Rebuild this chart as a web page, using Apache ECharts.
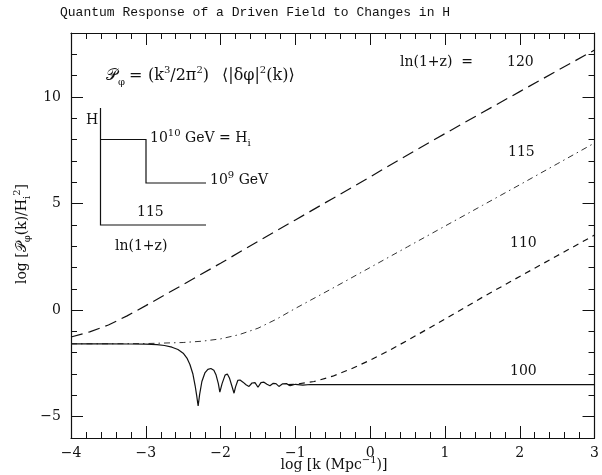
<!DOCTYPE html>
<html>
<head>
<meta charset="utf-8">
<script src="https://cdn.jsdelivr.net/npm/echarts@6/dist/echarts.min.js"></script>
<style>html,body{margin:0;padding:0;background:#fff;}#c{width:602px;height:475px;}</style>
</head>
<body>
<div id="c"></div>
<script>
// ---- data ----
const xTickValues = [-4, -3, -2, -1, 0, 1, 2, 3];
const yTickValues = [-5, 0, 5, 10];

// ln(1+z) = 120 (long dash)
const k120 = [-4, -3.75, -3.5, -3.25, -3, -2.5, -2, -1.5, -1, -0.5, 0, 0.5, 1, 1.5, 2, 2.5, 3];
const p120 = [-1.26, -1.02, -0.7, -0.27, 0.21, 1.2, 2.2, 3.22, 4.23, 5.24, 6.25, 7.28, 8.28, 9.27, 10.25, 11.23, 12.2];

// ln(1+z) = 115 (dash-dot)
const k115 = [-4, -3.5, -3, -2.5, -2.25, -2, -1.75, -1.5, -1.25, -1, -0.5, 0, 0.5, 1, 1.5, 2, 2.5, 3];
const p115 = [-1.58, -1.58, -1.57, -1.52, -1.46, -1.35, -1.15, -0.85, -0.42, 0.08, 1.03, 2.0, 2.97, 3.94, 4.91, 5.88, 6.86, 7.84];

// ln(1+z) = 110 (short dash)
const k110 = [-1.1, -1.0, -0.75, -0.5, -0.25, 0, 0.25, 0.5, 0.75, 1, 1.5, 2, 2.5, 3];
const p110 = [-3.5, -3.48, -3.35, -3.1, -2.75, -2.35, -1.9, -1.42, -0.92, -0.42, 0.6, 1.58, 2.55, 3.52];

// ln(1+z) = 100 (solid)
const k100 = [-4, -3.5, -3.2, -3.0, -2.85, -2.75, -2.65, -2.57, -2.5, -2.45, -2.41, -2.37, -2.34, -2.32, -2.30, -2.28, -2.25, -2.21, -2.17, -2.13, -2.09, -2.06, -2.03, -2.01, -1.98, -1.94, -1.91, -1.88, -1.85, -1.82, -1.80, -1.77, -1.74, -1.70, -1.66, -1.62, -1.58, -1.54, -1.50, -1.46, -1.42, -1.38, -1.34, -1.30, -1.26, -1.22, -1.17, -1.12, -1.07, -1.0, -0.9, -0.8, -0.6, -0.3, 0, 1, 2, 3];
const p100 = [-1.58, -1.58, -1.59, -1.6, -1.62, -1.66, -1.74, -1.85, -2.02, -2.25, -2.55, -3.0, -3.55, -4.0, -4.5, -3.95, -3.35, -2.95, -2.78, -2.74, -2.82, -3.05, -3.45, -3.85, -3.45, -3.05, -3.0, -3.2, -3.55, -3.9, -3.6, -3.3, -3.28, -3.38, -3.5, -3.58, -3.42, -3.4, -3.62, -3.4, -3.38, -3.48, -3.55, -3.44, -3.45, -3.58, -3.46, -3.45, -3.55, -3.48, -3.52, -3.49, -3.5, -3.5, -3.5, -3.5, -3.5, -3.5];

const zip = (a, b) => a.map((v, i) => [v, b[i]]);

const SERIF = '"DejaVu Serif", "Liberation Serif", serif';
const INK = '#111';
const minus = v => (v < 0 ? '\u2212' + Math.abs(v) : String(v));

function xAx(pos, label) {
  return {
    type: 'value', position: pos, min: -4, max: 3, interval: 1,
    axisLine: { show: true, onZero: false, lineStyle: { color: INK, width: 1.2 } },
    axisTick: { show: true, inside: true, length: 12, lineStyle: { color: INK, width: 1 } },
    minorTick: { show: true, splitNumber: 5, length: 6, lineStyle: { color: INK, width: 1 } },
    axisLabel: { show: label, color: INK, fontFamily: SERIF, fontSize: 14, margin: 8, formatter: minus },
    splitLine: { show: false }, minorSplitLine: { show: false }
  };
}
function yMajor(pos, label) {
  return {
    type: 'value', position: pos, min: -6, max: 13,
    axisLine: { show: true, onZero: false, lineStyle: { color: INK, width: 1.2 } },
    axisTick: { show: true, inside: true, length: 12, customValues: yTickValues, lineStyle: { color: INK, width: 1 } },
    axisLabel: { show: label, customValues: yTickValues, color: INK, fontFamily: SERIF, fontSize: 14, margin: 10, formatter: minus },
    splitLine: { show: false }
  };
}
function yMinor(pos) {
  return {
    type: 'value', position: pos, min: -6, max: 13, interval: 1,
    axisLine: { show: false, onZero: false },
    axisTick: { show: true, inside: true, length: 6, lineStyle: { color: INK, width: 1 } },
    axisLabel: { show: false },
    splitLine: { show: false }
  };
}

const txt = { fill: INK, font: '14px ' + SERIF };
const supS = { fontSize: 10, fontFamily: SERIF, fill: INK, verticalAlign: 'top', lineHeight: 10 };
const subS = { fontSize: 10, fontFamily: SERIF, fill: INK, verticalAlign: 'bottom', lineHeight: 10 };
const baseS = { fontSize: 14, fontFamily: SERIF, fill: INK, lineHeight: 20 };
const bigS = { fontSize: 16, fontFamily: SERIF, fill: INK, lineHeight: 22 };

function label(text, x, y, extra) {
  return Object.assign({ type: 'text', x: x, y: y, style: Object.assign({ text: text, verticalAlign: 'middle', align: 'left' }, txt) }, extra || {});
}
function rich(text, x, y, align, base) {
  return { type: 'text', x: x, y: y, style: { text: text, verticalAlign: 'middle', align: align || 'left',
    rich: { b: base || baseS, sup: supS, sub: subS } } };
}

const chart = echarts.init(document.getElementById('c'), null, { renderer: 'canvas' });
chart.setOption({
  animation: false,
  backgroundColor: '#fff',
  title: {
    text: 'Quantum Response of a Driven Field to Changes in H',
    left: 60, top: 6, padding: 0,
    textStyle: { fontFamily: '"Liberation Mono", monospace', fontSize: 13, fontWeight: 'normal', color: INK }
  },
  grid: { left: 71, right: 4, top: 33, bottom: 37 },
  xAxis: [xAx('bottom', true), xAx('top', false)],
  yAxis: [yMajor('left', true), yMinor('left'), yMajor('right', false), yMinor('right')],
  series: [
    { type: 'line', name: '120', data: zip(k120, p120), showSymbol: false, xAxisIndex: 0, yAxisIndex: 0,
      lineStyle: { color: INK, width: 1.2, type: [12, 6] } },
    { type: 'line', name: '115', data: zip(k115, p115), showSymbol: false, xAxisIndex: 0, yAxisIndex: 0,
      lineStyle: { color: '#333', width: 1, type: [6, 4, 1.5, 4] } },
    { type: 'line', name: '110', data: zip(k110, p110), showSymbol: false, xAxisIndex: 0, yAxisIndex: 0,
      lineStyle: { color: INK, width: 1.2, type: [6, 5] } },
    { type: 'line', name: '100', data: zip(k100, p100), showSymbol: false, xAxisIndex: 0, yAxisIndex: 0,
      lineStyle: { color: INK, width: 1.2, type: 'solid' } }
  ],
  graphic: [
    // curve labels
    label('ln(1+z)  =', 400, 62),
    label('120', 507, 62),
    label('115', 508, 152),
    label('110', 510, 243),
    label('100', 510, 371),
    // formula, in pieces
    rich('{b|\u{1D4AB}}{sub|\u03C6}', 106, 76, 'left', bigS),
    rich('{b|=}', 129, 76, 'left', bigS),
    rich('{b|(k}{sup|3}{b|/2\u03C0}{sup|2}{b|)}', 148, 76, 'left', bigS),
    rich('{b|\u27E8|\u03B4\u03C6|}{sup|2}{b|(k)\u27E9}', 222, 76, 'left', bigS),
    // inset diagram
    { type: 'polyline', shape: { points: [[100.5, 108], [100.5, 225], [206, 225]] }, style: { stroke: INK, lineWidth: 1.2, fill: null } },
    { type: 'polyline', shape: { points: [[100.5, 139.5], [146, 139.5], [146, 183], [206, 183]] }, style: { stroke: INK, lineWidth: 1.2, fill: null } },
    label('H', 86, 120),
    rich('{b|10}{sup|10}{b| GeV = H}{sub|i}', 150, 138),
    rich('{b|10}{sup|9}{b| GeV}', 210, 180),
    label('115', 137, 212),
    label('ln(1+z)', 115, 246),
    // axis titles
    rich('{b|log [k (Mpc}{sup|\u22121}{b|)]}', 334, 465, 'center'),
    { type: 'text', x: 22, y: 234, rotation: Math.PI / 2, style: {
      text: '{b|log [\u{1D4AB}}{sub|\u03C6}{b|(k)/H}{sub|i}{sup|2}{b|]}', verticalAlign: 'middle', align: 'center',
      rich: { b: baseS, sup: supS, sub: subS } } }
  ]
});
</script>
</body>
</html>
